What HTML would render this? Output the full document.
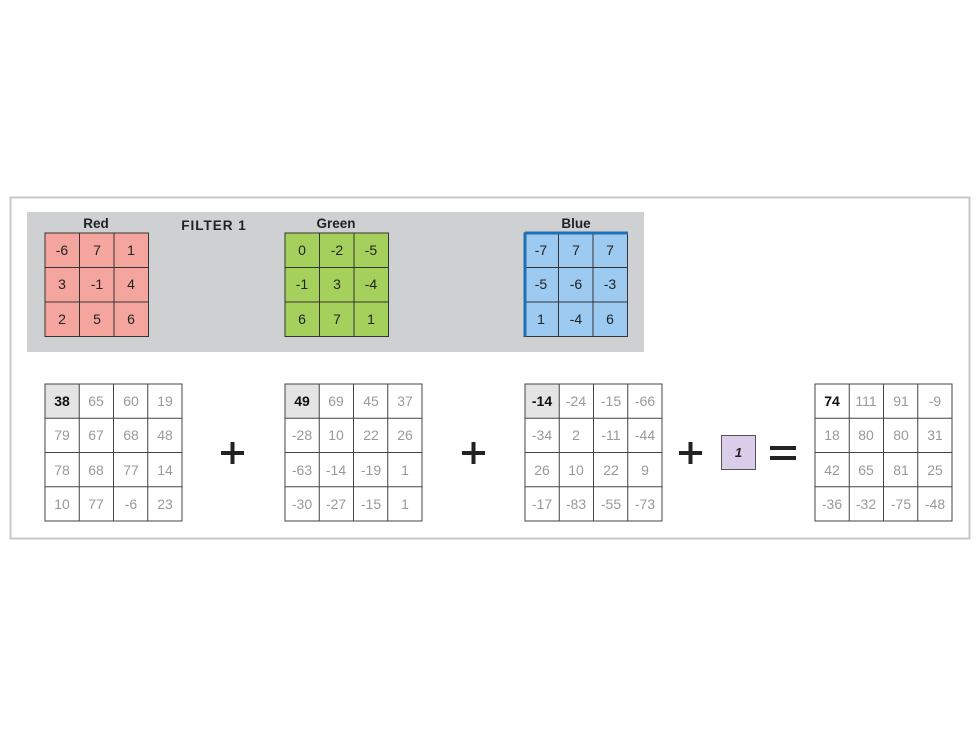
<!DOCTYPE html>
<html><head><meta charset="utf-8"><style>
html,body{margin:0;padding:0;background:#fff;}
svg{display:block;font-family:"Liberation Sans",sans-serif;}
.g text{font-size:14px;text-anchor:middle;fill:#999;}
.f text{font-size:14px;text-anchor:middle;fill:#222;}
.b{font-weight:bold;fill:#111 !important;}
</style></head><body>
<svg width="980" height="735" viewBox="0 0 980 735" xmlns="http://www.w3.org/2000/svg">
<rect x="10.5" y="197.5" width="959" height="341" fill="#fff" stroke="#c8c8c8" stroke-width="2"/>
<rect x="27" y="212" width="617" height="140" fill="#cfd0d2"/>
<g font-size="13.5" font-weight="bold" fill="#222" text-anchor="middle">
<text x="96" y="228">Red</text>
<text x="214" y="230" letter-spacing="1">FILTER 1</text>
<text x="336" y="228">Green</text>
<text x="576" y="228">Blue</text>
</g>
<g stroke="#333" stroke-width="1" fill="none">
<rect x="45" y="233" width="103.5" height="103.5" fill="#f4a59e"/>
<path d="M79.5 233V336.5M114 233V336.5M45 267.5H148.5M45 302H148.5"/>
<rect x="285" y="233" width="103.5" height="103.5" fill="#a6d05c"/>
<path d="M319.5 233V336.5M354 233V336.5M285 267.5H388.5M285 302H388.5"/>
<rect x="524" y="233" width="103.5" height="103.5" fill="#9ccaf0"/>
<path d="M558.5 233V336.5M593 233V336.5M524 267.5H627.5M524 302H627.5"/>
</g>
<path d="M525 233H628M525 233V336.5" stroke="#1f6fb5" stroke-width="3" fill="none"/>
<g class="f">
<text x="62" y="255">-6</text><text x="97" y="255">7</text><text x="131" y="255">1</text>
<text x="62" y="289">3</text><text x="97" y="289">-1</text><text x="131" y="289">4</text>
<text x="62" y="324">2</text><text x="97" y="324">5</text><text x="131" y="324">6</text>
<text x="302" y="255">0</text><text x="337" y="255">-2</text><text x="371" y="255">-5</text>
<text x="302" y="289">-1</text><text x="337" y="289">3</text><text x="371" y="289">-4</text>
<text x="302" y="324">6</text><text x="337" y="324">7</text><text x="371" y="324">1</text>
<text x="541" y="255">-7</text><text x="576" y="255">7</text><text x="610" y="255">7</text>
<text x="541" y="289">-5</text><text x="576" y="289">-6</text><text x="610" y="289">-3</text>
<text x="541" y="324">1</text><text x="576" y="324">-4</text><text x="610" y="324">6</text>
</g>
<g fill="#e4e4e4">
<rect x="45" y="384" width="34.25" height="34.25"/>
<rect x="285" y="384" width="34.25" height="34.25"/>
<rect x="525" y="384" width="34.25" height="34.25"/>
</g>
<g stroke="#444" stroke-width="1" fill="none">
<rect x="45" y="384" width="137" height="137"/>
<path d="M79.25 384V521M113.5 384V521M147.75 384V521M45 418.25H182M45 452.5H182M45 486.75H182"/>
<rect x="285" y="384" width="137" height="137"/>
<path d="M319.25 384V521M353.5 384V521M387.75 384V521M285 418.25H422M285 452.5H422M285 486.75H422"/>
<rect x="525" y="384" width="137" height="137"/>
<path d="M559.25 384V521M593.5 384V521M627.75 384V521M525 418.25H662M525 452.5H662M525 486.75H662"/>
<rect x="815" y="384" width="137" height="137"/>
<path d="M849.25 384V521M883.5 384V521M917.75 384V521M815 418.25H952M815 452.5H952M815 486.75H952"/>
</g>
<g class="g">
<text class="b" x="62" y="406">38</text><text x="96" y="406">65</text><text x="131" y="406">60</text><text x="165" y="406">19</text>
<text x="62" y="440">79</text><text x="96" y="440">67</text><text x="131" y="440">68</text><text x="165" y="440">48</text>
<text x="62" y="475">78</text><text x="96" y="475">68</text><text x="131" y="475">77</text><text x="165" y="475">14</text>
<text x="62" y="509">10</text><text x="96" y="509">77</text><text x="131" y="509">-6</text><text x="165" y="509">23</text>

<text class="b" x="302" y="406">49</text><text x="336" y="406">69</text><text x="371" y="406">45</text><text x="405" y="406">37</text>
<text x="302" y="440">-28</text><text x="336" y="440">10</text><text x="371" y="440">22</text><text x="405" y="440">26</text>
<text x="302" y="475">-63</text><text x="336" y="475">-14</text><text x="371" y="475">-19</text><text x="405" y="475">1</text>
<text x="302" y="509">-30</text><text x="336" y="509">-27</text><text x="371" y="509">-15</text><text x="405" y="509">1</text>

<text class="b" x="542" y="406">-14</text><text x="576" y="406">-24</text><text x="611" y="406">-15</text><text x="645" y="406">-66</text>
<text x="542" y="440">-34</text><text x="576" y="440">2</text><text x="611" y="440">-11</text><text x="645" y="440">-44</text>
<text x="542" y="475">26</text><text x="576" y="475">10</text><text x="611" y="475">22</text><text x="645" y="475">9</text>
<text x="542" y="509">-17</text><text x="576" y="509">-83</text><text x="611" y="509">-55</text><text x="645" y="509">-73</text>

<text class="b" x="832" y="406">74</text><text x="866" y="406">111</text><text x="901" y="406">91</text><text x="935" y="406">-9</text>
<text x="832" y="440">18</text><text x="866" y="440">80</text><text x="901" y="440">80</text><text x="935" y="440">31</text>
<text x="832" y="475">42</text><text x="866" y="475">65</text><text x="901" y="475">81</text><text x="935" y="475">25</text>
<text x="832" y="509">-36</text><text x="866" y="509">-32</text><text x="901" y="509">-75</text><text x="935" y="509">-48</text>
</g>
<g fill="#222">
<rect x="221" y="451" width="23" height="4"/><rect x="230.5" y="442" width="4" height="22"/>
<rect x="462" y="451" width="23" height="4"/><rect x="471.5" y="442" width="4" height="22"/>
<rect x="679" y="451" width="23" height="4"/><rect x="688.5" y="442" width="4" height="22"/>
<rect x="770" y="446" width="26" height="4"/><rect x="770" y="456" width="26" height="4"/>
</g>
<rect x="721.5" y="435.5" width="34" height="34" fill="#d9cdea" stroke="#555"/>
<text x="738.5" y="457" font-size="13" font-weight="bold" font-style="italic" text-anchor="middle" fill="#222">1</text>
</svg>
</body></html>
